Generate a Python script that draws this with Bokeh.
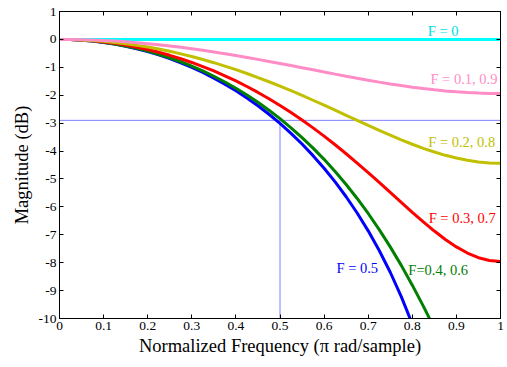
from bokeh.plotting import figure
from bokeh.models import LinearAxis, FixedTicker, Label
from bokeh.embed import file_html
from bokeh.resources import INLINE

freq = [0.0, 0.025, 0.05, 0.075, 0.1, 0.125, 0.15, 0.175, 0.2, 0.225, 0.25,
        0.275, 0.3, 0.325, 0.35, 0.375, 0.4, 0.425, 0.45, 0.475, 0.5,
        0.525, 0.55, 0.575, 0.6, 0.625, 0.65, 0.675, 0.7, 0.725, 0.75,
        0.775, 0.8, 0.825, 0.85, 0.875, 0.9, 0.925, 0.95, 0.975, 1.0]
mag_f00 = [0.0, 0.0]
mag_f01 = [0.0, -0.002, -0.010, -0.022, -0.038, -0.060, -0.086, -0.117, -0.152, -0.192, -0.235,
           -0.283, -0.335, -0.390, -0.449, -0.512, -0.577, -0.645, -0.715, -0.788, -0.862,
           -0.937, -1.014, -1.090, -1.167, -1.243, -1.318, -1.391, -1.462, -1.530, -1.594,
           -1.655, -1.711, -1.762, -1.807, -1.846, -1.879, -1.905, -1.923, -1.934, -1.938]
mag_f02 = [0.0, -0.004, -0.017, -0.039, -0.069, -0.107, -0.154, -0.210, -0.274, -0.346, -0.427,
           -0.517, -0.614, -0.720, -0.834, -0.956, -1.085, -1.222, -1.367, -1.517, -1.675,
           -1.838, -2.007, -2.180, -2.357, -2.537, -2.719, -2.901, -3.081, -3.259, -3.432,
           -3.598, -3.756, -3.902, -4.035, -4.153, -4.252, -4.332, -4.390, -4.425, -4.437]
mag_f03 = [0.0, -0.006, -0.023, -0.051, -0.090, -0.141, -0.204, -0.278, -0.363, -0.461, -0.570,
           -0.692, -0.826, -0.972, -1.131, -1.303, -1.489, -1.687, -1.900, -2.126, -2.366,
           -2.620, -2.888, -3.170, -3.466, -3.775, -4.097, -4.430, -4.774, -5.125, -5.482,
           -5.840, -6.194, -6.539, -6.866, -7.168, -7.434, -7.655, -7.821, -7.924, -7.959]
mag_f04 = [0.0, -0.006, -0.026, -0.058, -0.103, -0.162, -0.233, -0.319, -0.418, -0.531, -0.658,
           -0.800, -0.958, -1.131, -1.320, -1.526, -1.750, -1.992, -2.254, -2.536, -2.840,
           -3.167, -3.517, -3.894, -4.298, -4.733, -5.199, -5.699, -6.237, -6.814, -7.433,
           -8.096, -8.805, -9.557, -10.347, -11.161]
mag_f05 = [0.0, -0.007, -0.027, -0.060, -0.108, -0.169, -0.243, -0.332, -0.436, -0.554, -0.688,
           -0.837, -1.002, -1.185, -1.385, -1.603, -1.841, -2.099, -2.379, -2.682, -3.010,
           -3.365, -3.749, -4.165, -4.616, -5.105, -5.638, -6.221, -6.859, -7.563, -8.343,
           -9.215, -10.200, -11.326]

x_ticks = [0, 0.1, 0.2, 0.3, 0.4, 0.5, 0.6, 0.7, 0.8, 0.9, 1.0]
x_tick_labels = ["0", "0.1", "0.2", "0.3", "0.4", "0.5", "0.6", "0.7", "0.8", "0.9", "1"]
y_ticks = [1, 0, -1, -2, -3, -4, -5, -6, -7, -8, -9, -10]
y_tick_labels = ["1", "0", "-1", "-2", "-3", "-4", "-5", "-6", "-7", "-8", "-9", "-10"]

cutoff_freq = 0.5
cutoff_mag = -2.9

series = [
    (freq, mag_f05, "#0000ff"),
    (freq, mag_f04, "#008000"),
    (freq, mag_f03, "#ff0000"),
    (freq, mag_f02, "#c0c000"),
    ([0.0, 1.0], mag_f00, "#00ffff"),
    (freq, mag_f01, "#ff8cc6"),
]

FONT = "Liberation Serif"

p = figure(width=507, height=367, x_range=(0, 1), y_range=(-10, 1),
           output_backend="svg", toolbar_location=None,
           min_border_left=59, min_border_right=7, min_border_top=11, min_border_bottom=49)
p.xgrid.visible = False
p.ygrid.visible = False
p.outline_line_color = "black"
p.outline_line_width = 1
p.background_fill_color = "white"
p.border_fill_color = "white"

p.line([0, 1], [cutoff_mag, cutoff_mag], line_color="#0000ff", line_width=1, line_dash="1 1")
p.line([cutoff_freq, cutoff_freq], [-10, cutoff_mag], line_color="#0000ff", line_width=1, line_dash="1 1")

for xs, mags, col in series:
    p.line(xs[:len(mags)], mags, line_color=col, line_width=3)

def style_axis(ax, ticks, labels, show_labels=True):
    ax.ticker = FixedTicker(ticks=ticks)
    if show_labels:
        ax.major_label_overrides = {t: l for t, l in zip(ticks, labels)}
    else:
        ax.major_label_overrides = {t: "" for t in ticks}
    ax.major_tick_in = 4
    ax.major_tick_out = 0
    ax.minor_tick_in = 0
    ax.minor_tick_out = 0
    ax.axis_line_color = "black"
    ax.major_tick_line_color = "black"
    ax.major_label_text_font = FONT
    ax.major_label_text_color = "black"
    ax.major_label_text_font_size = "13.5px" if show_labels else "0px"
    ax.major_label_standoff = 3

style_axis(p.xaxis[0], x_ticks, x_tick_labels)
style_axis(p.yaxis[0], y_ticks, y_tick_labels)
p.xaxis[0].axis_label = "Normalized Frequency (\u03c0 rad/sample)"
p.yaxis[0].axis_label = "Magnitude (dB)"
for ax in (p.xaxis[0], p.yaxis[0]):
    ax.axis_label_text_font = FONT
    ax.axis_label_text_font_size = "18.5px"
    ax.axis_label_text_font_style = "normal"
    ax.axis_label_text_color = "black"
p.xaxis[0].axis_label_standoff = 3
p.yaxis[0].axis_label_standoff = 4

top_ax = LinearAxis()
style_axis(top_ax, x_ticks, x_tick_labels, show_labels=False)
p.add_layout(top_ax, "above")
right_ax = LinearAxis()
style_axis(right_ax, y_ticks, y_tick_labels, show_labels=False)
p.add_layout(right_ax, "right")

labels = [
    ("F = 0", "#00e0e0", 0.87, 0.3, "center"),
    ("F = 0.1, 0.9", "#ff8cc6", 0.993, -1.42, "right"),
    ("F = 0.2, 0.8", "#c0c000", 0.988, -3.67, "right"),
    ("F = 0.3, 0.7", "#ff0000", 0.989, -6.40, "right"),
    ("F=0.4, 0.6", "#008000", 0.791, -8.26, "left"),
    ("F = 0.5", "#0000ff", 0.628, -8.19, "left"),
]
for txt, col, lx, ly, al in labels:
    p.add_layout(Label(x=lx, y=ly, text=txt, text_color=col, text_font=FONT,
                       text_font_size="14.5px", text_align=al, text_baseline="middle"))

open("out.html", "w").write(file_html(p, INLINE))
